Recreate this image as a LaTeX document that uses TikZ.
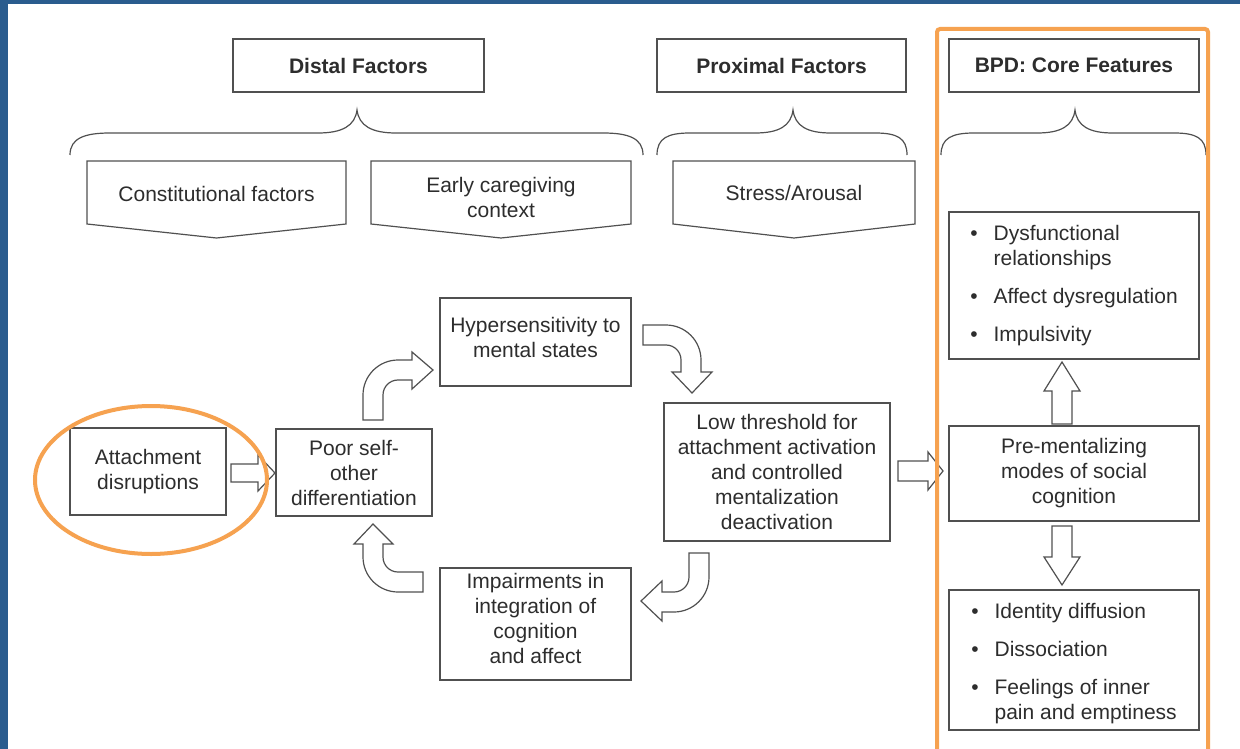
\documentclass[tikz,border=0pt]{standalone}
\usepackage{fontspec}
\setmainfont{Liberation Sans}
\definecolor{framec}{RGB}{42,92,142}
\definecolor{hilite}{RGB}{246,162,80}
\definecolor{linec}{RGB}{80,80,80}
\definecolor{textc}{RGB}{45,45,45}
\begin{document}
\begin{tikzpicture}[x=1pt,y=-1pt,
  every node/.style={font=\fontsize{21pt}{25pt}\selectfont, text=textc},
  box/.style={draw=linec, line width=1.4pt, fill=white, align=center, inner sep=0pt},
  headbox/.style={box, font=\fontsize{21pt}{25pt}\selectfont\bfseries},
  blockarrow/.style={draw=linec, line width=1.2pt, fill=white, line join=miter},
  brace/.style={draw=linec, line width=1.2pt},
  chevron/.style={draw=linec, line width=1.2pt, fill=white},
  hiline/.style={draw=hilite, line width=4pt}]
\useasboundingbox (0,0) rectangle (1240,749);
\fill[white] (0,0) rectangle (1240,749);
% frame strips
\fill[framec] (0,0) rectangle (8,749);
\fill[framec] (0,0) rectangle (1240,4);

% column headings
\node[headbox, minimum width=251pt, minimum height=53pt] (distal) at (358.5,65.5) {Distal Factors};
\node[headbox, minimum width=249pt, minimum height=53pt] (proximal) at (781.5,65.5) {Proximal Factors};
\node[headbox, minimum width=250pt, minimum height=53pt] (core) at (1074,65.5) {BPD: Core Features};

% braces
\draw[brace] (70,155) .. controls (70,138) and (85,133) .. (110,133) -- (318,133)
  .. controls (342,133) and (355,126) .. (357,110)
  .. controls (359,126) and (372,133) .. (396,133) -- (603,133)
  .. controls (628,133) and (643,138) .. (643,155);
\draw[brace] (657,155) .. controls (657,138) and (668,133) .. (690,133) -- (755,133)
  .. controls (779,133) and (791,126) .. (793,110)
  .. controls (795,126) and (807,133) .. (831,133) -- (875,133)
  .. controls (897,133) and (907,138) .. (907,155);
\draw[brace] (941,155) .. controls (941,138) and (952,133) .. (974,133) -- (1037,133)
  .. controls (1061,133) and (1073,126) .. (1075,110)
  .. controls (1077,126) and (1089,133) .. (1113,133) -- (1174,133)
  .. controls (1196,133) and (1206,138) .. (1206,155);

% factor chevrons
\draw[chevron] (87,161) -- (346,161) -- (346,224) -- (216.5,238) -- (87,224) -- cycle;
\node (constit) at (216.5,194) {Constitutional factors};
\draw[chevron] (371,161) -- (631,161) -- (631,224) -- (501,238) -- (371,224) -- cycle;
\node[align=center] (early) at (501,197) {Early caregiving\\context};
\draw[chevron] (673,161) -- (915,161) -- (915,224) -- (794,238) -- (673,224) -- cycle;
\node (stress) at (794,193) {Stress/Arousal};

% cycle boxes
\node[box, minimum width=156pt, minimum height=87pt] (attach) at (148,471.5) {Attachment\\disruptions};
\node[box, minimum width=156pt, minimum height=87pt] (poor) at (354,472.5) {Poor self-\\other\\differentiation};
\node[box, minimum width=191pt, minimum height=88pt] (hyper) at (535.5,342) {\raisebox{2pt}[\height][\depth]{\begin{tabular}{@{}c@{}}Hypersensitivity to\\mental states\end{tabular}}};
\node[box, minimum width=226pt, minimum height=138pt] (low) at (777,472) {Low threshold for\\attachment activation\\and controlled\\mentalization\\deactivation};
\node[box, minimum width=191pt, minimum height=112pt] (impair) at (535.5,624) {\raisebox{3pt}[\height][\depth]{\begin{tabular}{@{}c@{}}Impairments in\\integration of\\cognition\\and affect\end{tabular}}};

% core feature boxes
\node[box, minimum width=250pt, minimum height=147pt] (feat1) at (1074,285.5)
  {\begin{tabular}{@{}l@{\hspace{16pt}}l@{}}
   \textbullet & Dysfunctional\\
               & relationships\\[13pt]
   \textbullet & Affect dysregulation\\[13pt]
   \textbullet & Impulsivity
   \end{tabular}};
\node[box, minimum width=250pt, minimum height=95pt] (premod) at (1074,473.5) {Pre-mentalizing\\modes of social\\cognition};
\node[box, minimum width=250pt, minimum height=140pt] (feat2) at (1074,660)
  {\raisebox{-4pt}[\height][\depth]{\begin{tabular}{@{}l@{\hspace{16pt}}l@{}}
   \textbullet & Identity diffusion\\[13pt]
   \textbullet & Dissociation\\[13pt]
   \textbullet & Feelings of inner\\
               & pain and emptiness
   \end{tabular}}};

% straight block arrows
\draw[blockarrow] (231,464) -- (258,464) -- (258,455) -- (275,473) -- (258,491) -- (258,482) -- (231,482) -- cycle;
\draw[blockarrow] (898,461) -- (928,461) -- (928,452) -- (943,471) -- (928,490) -- (928,481) -- (898,481) -- cycle;
\draw[blockarrow] (1052,424) -- (1052,391) -- (1044,391) -- (1062,362) -- (1080,391) -- (1072,391) -- (1072,424) -- cycle;
\draw[blockarrow] (1052,526) -- (1052,557) -- (1044,557) -- (1062,585) -- (1080,557) -- (1072,557) -- (1072,526) -- cycle;

% curved block arrows of the cycle
\draw[blockarrow] (363,420) -- (363,395) .. controls (363,375.7) and (378.7,360) .. (398,360)
  -- (412,360) -- (412,352) -- (433,370) -- (412,389) -- (412,380) -- (398,380)
  .. controls (389.7,380) and (383,386.7) .. (383,395) -- (383,420) -- cycle;
\draw[blockarrow] (643,325) -- (666,325) .. controls (685.3,325) and (701,340.7) .. (701,360)
  -- (701,372) -- (712,372) -- (692,393) -- (672,372) -- (681,372) -- (681,360)
  .. controls (681,351.7) and (674.3,345) .. (666,345) -- (643,345) -- cycle;
\draw[blockarrow] (689,553) -- (709,553) -- (709,577) .. controls (709,596.3) and (693.3,612) .. (674,612)
  -- (662,612) -- (662,621) -- (641,601) -- (662,581) -- (662,592) -- (674,592)
  .. controls (682.3,592) and (689,585.3) .. (689,577) -- cycle;
\draw[blockarrow] (423,572) -- (423,592) -- (398,592) .. controls (378.7,592) and (363,576.3) .. (363,557)
  -- (363,544) -- (354,544) -- (373,524) -- (393,544) -- (383,544) -- (383,557)
  .. controls (383,565.3) and (389.7,572) .. (398,572) -- cycle;

% highlights
\draw[hiline] (151,480) ellipse [x radius=116pt, y radius=74pt];
\draw[hiline, rounded corners=3pt] (937,29) rectangle (1208,775);
\end{tikzpicture}
\end{document}
